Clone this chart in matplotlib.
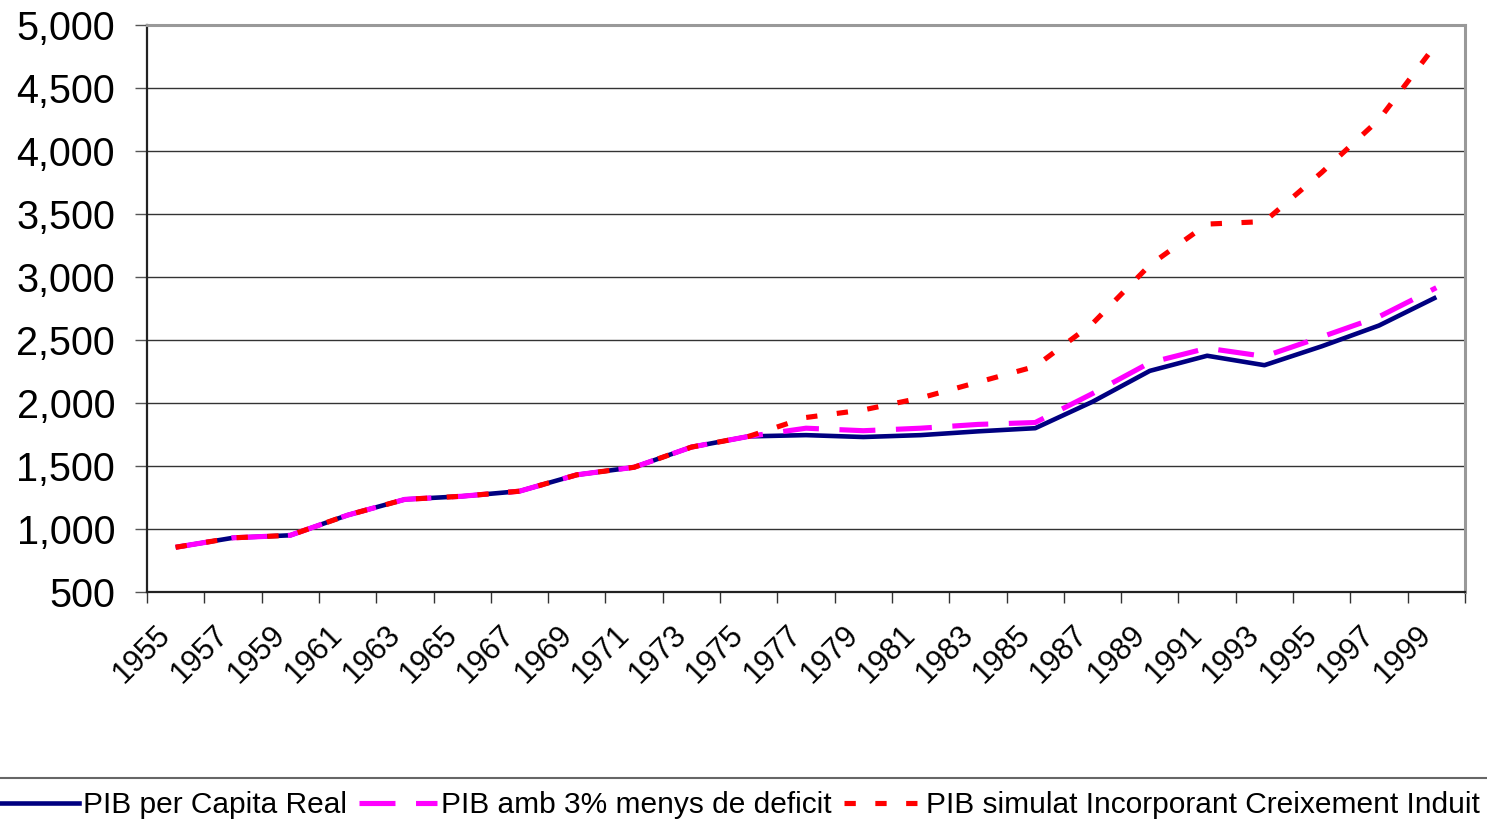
import matplotlib
matplotlib.use("Agg")
import matplotlib.pyplot as plt
from matplotlib.lines import Line2D
from matplotlib.transforms import ScaledTranslation
import numpy as np

years = ["1955", "1957", "1959", "1961", "1963", "1965", "1967", "1969", "1971", "1973",
         "1975", "1977", "1979", "1981", "1983", "1985", "1987", "1989", "1991", "1993",
         "1995", "1997", "1999"]
pib_real = [855, 930, 950, 1110, 1235, 1260, 1300, 1430, 1490, 1650, 1735, 1745, 1730,
            1745, 1775, 1800, 2010, 2255, 2375, 2300, 2450, 2615, 2840]
pib_deficit = [855, 930, 950, 1110, 1235, 1260, 1300, 1430, 1490, 1650, 1735, 1800, 1780,
               1800, 1830, 1845, 2075, 2320, 2435, 2370, 2525, 2685, 2915]
pib_simulat = [855, 930, 950, 1110, 1235, 1260, 1300, 1430, 1490, 1650, 1735, 1885, 1945,
               2040, 2165, 2290, 2630, 3095, 3420, 3440, 3830, 4250, 4850]
y_ticks = [500, 1000, 1500, 2000, 2500, 3000, 3500, 4000, 4500, 5000]
series_names = ["PIB per Capita Real", "PIB amb 3% menys de deficit",
                "PIB simulat Incorporant Creixement Induit"]

plt.rcParams['font.family'] = ['Liberation Sans', 'DejaVu Sans']

W, H = 1487, 819
fig = plt.figure(figsize=(W / 100, H / 100), dpi=100)
ax = fig.add_axes([147 / W, 1 - 592 / H, (1465 - 147) / W, (592 - 25) / H])

x = np.arange(len(years))
blue = '#000080'
mag = '#FF00FF'
red = '#FF0000'
lw = 3.3
ax.plot(x, pib_real, color=blue, lw=lw, solid_capstyle='butt', zorder=3)
ax.plot(x, pib_deficit, color=mag, lw=lw + 0.4, dashes=(7.0, 4.0), zorder=4)
ax.plot(x, pib_simulat, color=red, lw=lw + 0.4, dashes=(2.2, 3.8), zorder=5)

ax.set_xlim(-0.5, len(years) - 0.5)
ax.set_ylim(500, 5000)
ax.set_yticks(y_ticks)
ax.set_yticklabels([f"{v:,}" for v in y_ticks], fontsize=28.5)
ax.yaxis.grid(True, color='#333333', lw=1.0)
ax.set_axisbelow(True)
ax.tick_params(axis='y', length=9, width=1.0, color='#555555', pad=14)

ax.set_xticks(x)
ax.set_xticklabels(years, fontsize=22, rotation=45, ha='right', va='top',
                   rotation_mode='anchor')
ax.tick_params(axis='x', which='major', length=0, pad=20)
ax.set_xticks(np.arange(len(years) + 1) - 0.5, minor=True)
ax.tick_params(axis='x', which='minor', length=8, width=1.0, color='#333333')
off = ScaledTranslation(-20 / 100, 0, fig.dpi_scale_trans)
for lab in ax.get_xticklabels():
    lab.set_transform(lab.get_transform() + off)

for s in ['left', 'bottom']:
    ax.spines[s].set_color('#222222')
    ax.spines[s].set_linewidth(1.6)
for s in ['top', 'right']:
    ax.spines[s].set_color('#999999')
    ax.spines[s].set_linewidth(2.2)

handles = [
    Line2D([], [], color=blue, lw=lw),
    Line2D([], [], color=mag, lw=lw + 0.4, dashes=(7.0, 4.0)),
    Line2D([], [], color=red, lw=lw + 0.4, dashes=(2.2, 3.8)),
]
leg = fig.legend(handles, series_names, loc='upper center',
                 bbox_to_anchor=(0.5 - 3 / W, 1 - 778 / H), ncol=3, fontsize=21.5,
                 frameon=False, borderaxespad=0, borderpad=0.45,
                 handlelength=2.6, handletextpad=0.15, columnspacing=0.4)
fig.add_artist(Line2D([0, 1], [1 - 778 / H, 1 - 778 / H], transform=fig.transFigure,
                      color='#666666', lw=1.5))

fig.savefig('out.png', dpi=100)
